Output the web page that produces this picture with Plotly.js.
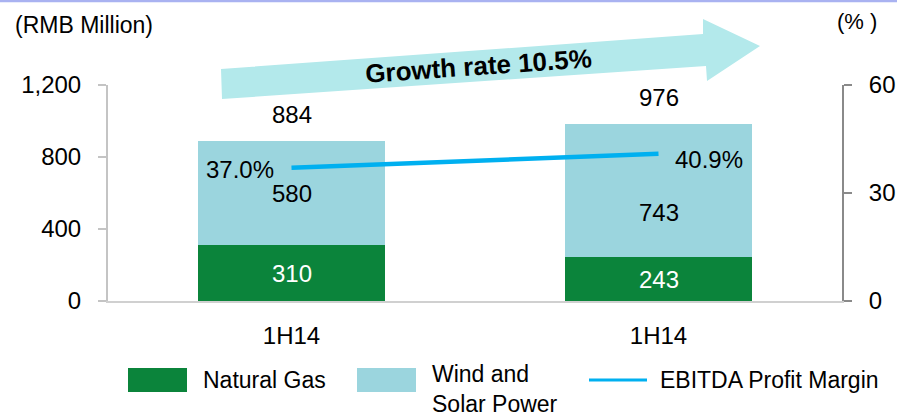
<!DOCTYPE html>
<html>
<head>
<meta charset="utf-8">
<script src="https://cdn.plot.ly/plotly-3.0.1.min.js"></script>
<style>html,body{margin:0;padding:0;background:#fff}#chart{width:897px;height:417px}</style>
</head>
<body>
<div id="chart"></div>
<script>
const categories = ['1H14', '1H14'];
const naturalGas = [310, 243];
const windSolar = [580, 743];
const totals = [884, 976];
const ebitdaMargin = [37.0, 40.9];
const seriesNames = ['Natural Gas', 'Wind and<br>Solar Power', 'EBITDA Profit Margin'];
const growthLabel = 'Growth rate 10.5%';

const FONT = 'Liberation Sans, Arial, sans-serif';
const GAS = '#0b843b', WIND = '#9bd5de', LINE = '#00b0f0';
const L = 108, R = 55, T = 85, B = 116, W = 897, H = 417;
const PX = x => (x - L) / (W - L - R);
const PY = y => (H - B - y) / (H - B - T);

const xpos = categories.map((_, i) => i);

const traces = [
  {type: 'bar', name: seriesNames[0], x: xpos, y: naturalGas, width: 0.51,
   marker: {color: GAS}, hoverinfo: 'skip', showlegend: false},
  {type: 'bar', name: seriesNames[1], x: xpos, y: windSolar, width: 0.51,
   marker: {color: WIND}, hoverinfo: 'skip', showlegend: false},
  {type: 'scatter', mode: 'lines', name: seriesNames[2], x: xpos, y: ebitdaMargin, yaxis: 'y2',
   line: {color: LINE, width: 4.5}, hoverinfo: 'skip', showlegend: false}
];

const ann = [];
xpos.forEach((x, i) => {
  ann.push({x: x, y: naturalGas[i] / 2, xref: 'x', yref: 'y', text: String(naturalGas[i]),
    showarrow: false, font: {family: FONT, size: 24, color: '#ffffff'}});
  ann.push({x: x, y: naturalGas[i] + windSolar[i] / 2, xref: 'x', yref: 'y', text: String(windSolar[i]),
    showarrow: false, yshift: i === 1 ? -22 : 0, font: {family: FONT, size: 24, color: '#000'}});
  ann.push({x: x, y: totals[i], xref: 'x', yref: 'y', text: String(totals[i]), yanchor: 'bottom',
    yshift: 12, showarrow: false, font: {family: FONT, size: 24, color: '#000'}});
  ann.push({x: x, y: ebitdaMargin[i], xref: 'x', yref: 'y2', text: ebitdaMargin[i].toFixed(1) + '%',
    xanchor: i === 0 ? 'right' : 'left', xshift: i === 0 ? -16 : 14, yshift: i === 0 ? -2 : -6,
    showarrow: false, font: {family: FONT, size: 24, color: '#000'}});
});
// axis unit labels
ann.push({x: PX(13), y: PY(25), xref: 'paper', yref: 'paper', xanchor: 'left', yanchor: 'middle',
  text: '(RMB Million)', showarrow: false, font: {family: FONT, size: 23, color: '#000'}});
ann.push({x: PX(835), y: PY(22), xref: 'paper', yref: 'paper', xanchor: 'left', yanchor: 'middle',
  text: '(% )', showarrow: false, font: {family: FONT, size: 22, color: '#000'}});
// growth arrow label
ann.push({x: PX(478), y: PY(66), xref: 'paper', yref: 'paper', xanchor: 'center', yanchor: 'middle',
  text: '<b>' + growthLabel + '</b>', textangle: -4, showarrow: false,
  font: {family: FONT, size: 26, color: '#000'}});
// custom legend texts
ann.push({x: PX(201), y: PY(380), xref: 'paper', yref: 'paper', xanchor: 'left', yanchor: 'middle',
  text: seriesNames[0], showarrow: false, font: {family: FONT, size: 23, color: '#000'}});
ann.push({x: PX(430), y: PY(389), xref: 'paper', yref: 'paper', xanchor: 'left', yanchor: 'middle', align: 'left',
  text: seriesNames[1], showarrow: false, font: {family: FONT, size: 23, color: '#000'}});
ann.push({x: PX(658), y: PY(380), xref: 'paper', yref: 'paper', xanchor: 'left', yanchor: 'middle',
  text: seriesNames[2], showarrow: false, font: {family: FONT, size: 23, color: '#000'}});

const arrowPts = [[221,69],[703,34],[703,19],[760,46],[707,81],[706,66],[222,99]];
const arrowPath = 'M ' + arrowPts.map(p => PX(p[0]) + ',' + PY(p[1])).join(' L ') + ' Z';

const shapes = [
  {type: 'rect', xref: 'paper', yref: 'paper', x0: PX(0), x1: PX(897), y0: PY(0), y1: PY(2.2),
   fillcolor: '#a9b2f1', line: {width: 0}},
  {type: 'path', xref: 'paper', yref: 'paper', path: arrowPath, fillcolor: '#b3e9eb', line: {width: 0}, layer: 'below'},
  {type: 'rect', xref: 'paper', yref: 'paper', x0: PX(128), x1: PX(187), y0: PY(392), y1: PY(368),
   fillcolor: GAS, line: {width: 0}},
  {type: 'rect', xref: 'paper', yref: 'paper', x0: PX(357), x1: PX(416), y0: PY(392), y1: PY(368),
   fillcolor: WIND, line: {width: 0}},
  {type: 'line', xref: 'paper', yref: 'paper', x0: PX(589), x1: PX(647), y0: PY(380), y1: PY(380),
   line: {color: LINE, width: 3}}
];

const layout = {
  width: W, height: H,
  margin: {l: L, r: R, t: T, b: B, pad: 0},
  paper_bgcolor: '#fff', plot_bgcolor: 'rgba(0,0,0,0)',
  barmode: 'stack', showlegend: false,
  font: {family: FONT, size: 24, color: '#000'},
  xaxis: {range: [-0.5, 1.5], tickmode: 'array', tickvals: xpos, ticktext: categories,
    ticks: '', showgrid: false, zeroline: false, showline: true, linecolor: '#d0d0d0', linewidth: 2,
    ticklabelstandoff: 12, tickfont: {family: FONT, size: 24, color: '#000'}, fixedrange: true},
  xaxis2: {overlaying: 'x', anchor: 'y', range: [-0.5, 1.5], tickmode: 'array', tickvals: [-0.5, 0.5, 1.5],
    ticks: 'outside', ticklen: 8, tickwidth: 2, tickcolor: '#c8c8c8', showticklabels: false,
    showgrid: false, zeroline: false, showline: false},
  yaxis: {range: [0, 1200], tickmode: 'array', tickvals: [0, 400, 800, 1200], tickformat: ',',
    ticks: 'outside', ticklen: 8, tickwidth: 2, tickcolor: '#c4c4c4', showline: true, linecolor: '#c4c4c4', linewidth: 2,
    showgrid: false, zeroline: false, ticklabelstandoff: 12, tickfont: {family: FONT, size: 24, color: '#000'}},
  yaxis2: {range: [0, 60], tickmode: 'array', tickvals: [0, 30, 60], overlaying: 'y', side: 'right',
    ticks: 'outside', ticklen: 8, tickwidth: 2, tickcolor: '#8a8a8a', showline: true, linecolor: '#8a8a8a', linewidth: 2,
    showgrid: false, zeroline: false, ticklabelstandoff: 12, tickfont: {family: FONT, size: 24, color: '#000'}},
  annotations: ann,
  shapes: shapes
};

Plotly.newPlot('chart', traces, layout, {displayModeBar: false, staticPlot: true});
</script>
</body>
</html>
